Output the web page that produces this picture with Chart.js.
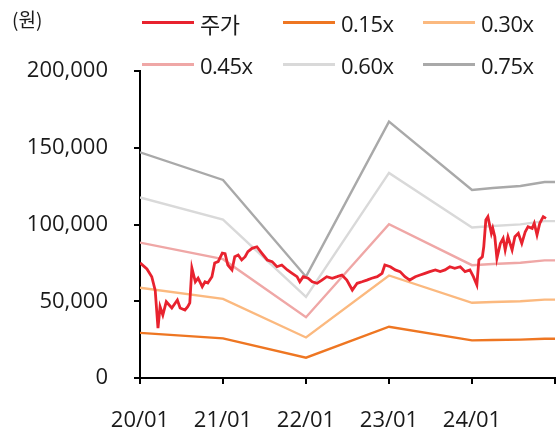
<!DOCTYPE html>
<html><head><meta charset="utf-8">
<script src="https://cdn.jsdelivr.net/npm/chart.js@4.4.1/dist/chart.umd.min.js"></script>
<style>
html,body{margin:0;padding:0;background:#fff;}
#wrap{position:relative;width:558px;height:434px;overflow:hidden;}
#unit{position:absolute;left:12px;top:6px;font:19px "Noto Sans CJK KR";color:#1a1a1a;line-height:26px;}
#legend{position:absolute;left:142px;top:10px;display:grid;grid-template-columns:141px 140px 140px;grid-auto-rows:42px;}
.lg{display:flex;align-items:center;height:25px;font:22px "Open Sans","Noto Sans CJK KR";color:#1a1a1a;white-space:nowrap;letter-spacing:-0.5px;}
.lg i{display:inline-block;width:52px;height:3px;margin-right:6px;}
</style></head><body>
<div id="wrap"><canvas id="c" width="558" height="434"></canvas><div id="unit">(원)</div><div id="legend"></div></div>
<script>
const seriesNames = ['주가', '0.15x', '0.30x', '0.45x', '0.60x', '0.75x'];
const seriesColors = ['#E8222E', '#EE7622', '#FBB97F', '#EFA7A6', '#D9D9D9', '#A9A9A9'];
const xTickLabels = ['20/01', '21/01', '22/01', '23/01', '24/01', ''];
const yTickValues = [0, 50000, 100000, 150000, 200000];

// stock price: months since 2020-01
const priceMonth = [0,1.0,1.7,2.2,2.6,2.9,3.3,3.8,4.6,5.4,
5.8,6.5,6.9,7.2,7.5,8.0,8.4,9.0,9.4,9.8,
10.4,10.8,11.3,11.9,12.3,12.7,13.3,13.7,14.2,14.7,
15.2,15.6,16.2,16.9,17.6,18.4,19.1,19.8,20.5,21.3,
22.0,22.7,23.1,23.6,24.3,24.9,25.6,26.3,27.0,27.8,
28.5,29.2,29.9,30.7,31.4,32.1,32.8,33.5,34.3,35.0,
35.4,36.2,36.9,37.6,38.3,39.0,39.8,40.5,41.2,41.9,
42.7,43.4,44.1,44.8,45.5,46.3,47.0,47.7,48.2,48.7,
49.0,49.5,49.7,50.0,50.3,50.8,51.0,51.3,51.6,52.1,
52.5,52.8,53.2,53.8,54.2,54.7,55.2,55.7,56.1,56.7,
57.0,57.4,57.8,58.3,58.7];
const price = [75000,71000,66000,57000,32500,46400,41000,49700,45600,50800,
45600,44300,46400,48900,71700,62700,65100,59500,62700,61900,
66000,74900,75800,81400,81000,73600,70400,79000,80100,76900,
79000,82300,84500,85500,81400,76900,75800,72500,73600,70400,
68200,66000,62700,66000,65000,62700,61700,63800,66000,65000,
66000,67100,63800,57300,61700,62700,63800,65000,66000,68200,
73600,72500,70400,69300,66000,63800,66000,67100,68200,69300,
70400,69300,70400,72500,71500,72500,69300,70400,66000,60600,
76900,79000,85500,102900,105100,94300,97500,92000,78000,87700,
91000,83400,92000,83400,92000,94300,87700,95300,98600,97500,
100800,93200,100800,105100,104000];

// PBR bands
const bandMonth = [0, 12, 24, 36, 48, 51, 55, 58.5, 60];
const band015 = [29400, 25800, 13200, 33400, 24500, 24750, 25020, 25550, 25550];
const band030 = [58800, 51600, 26400, 66800, 49000, 49500, 50040, 51090, 51090];
const band045 = [88200, 77400, 39600, 100200, 73500, 74250, 75060, 76640, 76640];
const band060 = [117600, 103200, 52800, 133600, 98000, 99000, 100080, 102180, 102180];
const band075 = [147000, 129000, 66000, 167000, 122500, 123750, 125100, 127700, 127700];

const pts = (xs, ys) => xs.map((x, i) => ({x, y: ys[i]}));
const seriesData = [pts(priceMonth, price), pts(bandMonth, band015), pts(bandMonth, band030),
  pts(bandMonth, band045), pts(bandMonth, band060), pts(bandMonth, band075)];

const FONT = {family: '"Open Sans"', size: 22};
const chart = new Chart(document.getElementById('c'), {
  type: 'line',
  data: {
    datasets: seriesNames.map((n, i) => ({
      label: n, data: seriesData[i], borderColor: seriesColors[i], backgroundColor: seriesColors[i],
      borderWidth: i === 0 ? 2.8 : 2.4, pointRadius: 0, tension: 0, fill: false
    }))
  },
  options: {
    responsive: false, animation: false, devicePixelRatio: 1,
    layout: {padding: {top: 71, right: 3, left: 0, bottom: 0}},
    plugins: {legend: {display: false}, tooltip: {enabled: false}},
    scales: {
      x: {
        type: 'linear', min: 0, max: 60,
        afterBuildTicks: s => { s.ticks = xTickLabels.map((l, i) => ({value: i * 12})); },
        ticks: {callback: (v) => xTickLabels[Math.round(v / 12)], color: '#1a1a1a', font: FONT, padding: 24, maxRotation: 0, autoSkip: false},
        grid: {drawOnChartArea: false, drawTicks: true, tickLength: 6, color: '#000', lineWidth: 2},
        border: {display: true, color: '#000', width: 2},
        afterFit: s => { s.height = 56; s.paddingRight = 0; s.paddingLeft = 0; }
      },
      y: {
        min: 0, max: 200000,
        afterBuildTicks: s => { s.ticks = yTickValues.map(v => ({value: v})); },
        ticks: {callback: v => v.toLocaleString('en-US'), color: '#1a1a1a', font: FONT, padding: 26},
        grid: {drawOnChartArea: false, drawTicks: true, tickLength: 6, color: '#000', lineWidth: 2},
        border: {display: true, color: '#000', width: 2},
        afterFit: s => { s.width = 140; s.paddingTop = 0; s.paddingBottom = 0; }
      }
    }
  }
});

const lg = document.getElementById('legend');
chart.data.datasets.forEach(ds => {
  const d = document.createElement('div'); d.className = 'lg';
  const i = document.createElement('i'); i.style.background = ds.borderColor;
  d.appendChild(i); d.appendChild(document.createTextNode(ds.label));
  lg.appendChild(d);
});
</script>
</body></html>
